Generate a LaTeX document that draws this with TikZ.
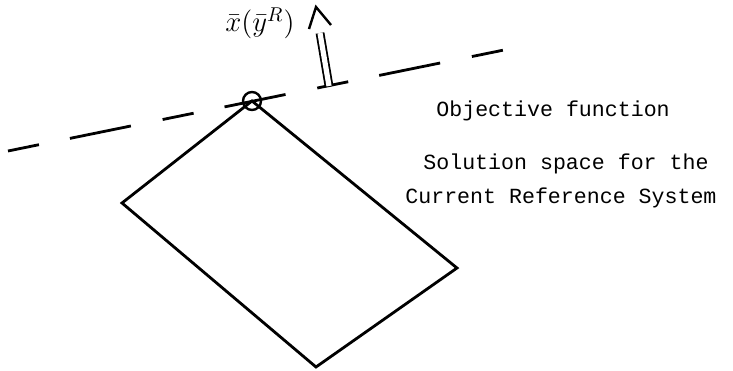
\documentclass[tikz,border=0pt]{standalone}
\usepackage{fontspec}
\newfontfamily\typefont{Liberation Mono}
\begin{document}
\begin{tikzpicture}[x=0.5pt, y=-0.5pt, line width=1.4pt,
    every node/.style={inner sep=0pt},
    caption/.style={font=\typefont\fontsize{10.8}{13}\selectfont, anchor=west},
    objline/.style={dash pattern=on 15.8pt off 15.8pt on 31.1pt off 16.2pt}]
  \useasboundingbox (0,0) rectangle (733,370);
  % objective function line
  \coordinate (obj-w) at (8,151);
  \coordinate (obj-e) at (504,50);
  \draw[objline] (obj-w) -- (obj-e);
  % solution space
  \coordinate (top) at (252,101);
  \coordinate (lft) at (122,203);
  \coordinate (bot) at (316,367);
  \coordinate (rgt) at (457,268);
  \draw[line join=miter] (top) -- (rgt) -- (bot) -- (lft) -- cycle;
  \node[circle, draw, minimum size=9pt, line width=1.2pt] (opt) at (top) {};
  \node[font=\fontsize{14}{17}\selectfont] (optlbl) at (260,23) {$\bar{x}(\bar{y}^R)$};
  % direction of improvement
  \coordinate (dir-base) at (329,86);
  \coordinate (dir-top) at (320,33);
  \coordinate (dir-tip) at (316,7);
  \coordinate (tip-l) at (309,29);
  \coordinate (tip-r) at (331,25);
  \draw[double, line width=0.9pt, double distance=2.6pt] (dir-base) -- (dir-top);
  \draw[line width=1.2pt] (tip-l) -- (dir-tip) -- (tip-r);
  % labels
  \node[caption] (objlbl) at (435,111) {Objective function};
  \node[caption] (spacelbl1) at (422,164) {Solution space for the};
  \node[caption] (spacelbl2) at (404,198) {Current Reference System};
\end{tikzpicture}
\end{document}
